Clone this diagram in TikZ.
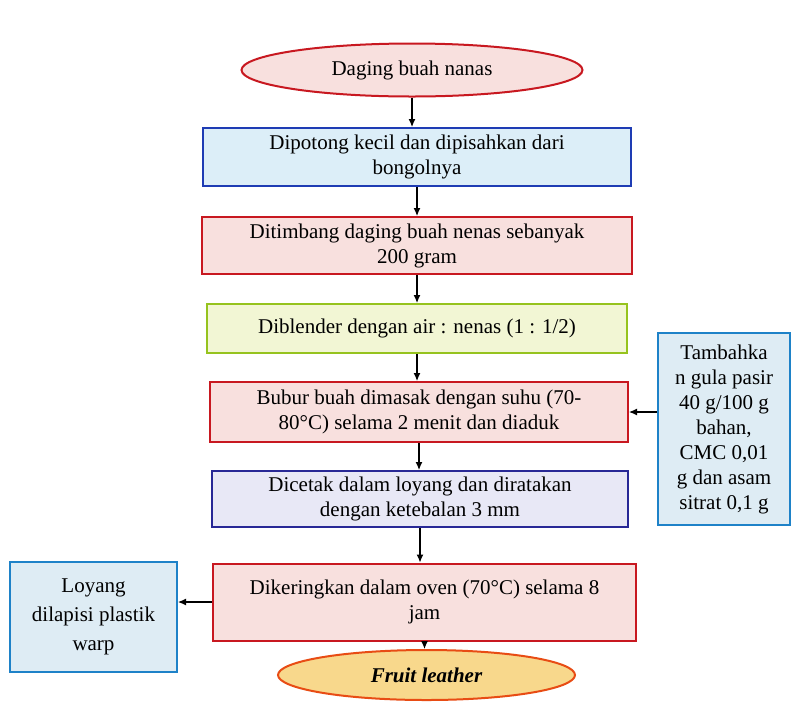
\documentclass[tikz,border=0pt]{standalone}
\usepackage{fontspec}
\setmainfont{Liberation Serif}
\usetikzlibrary{arrows.meta,shapes}

\definecolor{pinkfill}{RGB}{248,224,222}
\definecolor{redline}{RGB}{200,24,32}
\definecolor{bluefill}{RGB}{220,238,248}
\definecolor{blueline}{RGB}{30,60,180}
\definecolor{greenfill}{RGB}{242,246,212}
\definecolor{greenline}{RGB}{150,195,30}
\definecolor{lilacfill}{RGB}{232,232,246}
\definecolor{navyline}{RGB}{40,40,150}
\definecolor{skyfill}{RGB}{222,236,244}
\definecolor{skyline}{RGB}{30,130,200}
\definecolor{orangefill}{RGB}{248,216,140}
\definecolor{orangeline}{RGB}{232,76,20}

\begin{document}
\begin{tikzpicture}[x=1pt,y=-1pt,>={Latex[length=8pt,width=7pt]},inner sep=1pt,
  box/.style={draw,rectangle,line width=2pt,align=center,
    font=\fontsize{21}{25}\selectfont},
  oval/.style={draw,ellipse,line width=2pt,align=center,
    font=\fontsize{21}{25}\selectfont},
  flow/.style={->,line width=1.2pt}]
\useasboundingbox (0,0) rectangle (792,724);
\node[oval,fill=pinkfill,draw=redline,minimum width=341pt,minimum height=53pt] (start) at (412,70) {Daging buah nanas};
\node[box,fill=bluefill,draw=blueline,minimum width=428pt,minimum height=58pt] (cut) at (417,157) {Dipotong kecil dan dipisahkan dari\\ bongolnya};
\node[box,fill=pinkfill,draw=redline,minimum width=430pt,minimum height=57pt] (weigh) at (417,245.5) {Ditimbang daging buah nenas sebanyak\\ 200 gram};
\node[box,fill=greenfill,draw=greenline,minimum width=420pt,minimum height=49pt] (blend) at (417,328.5) {Diblender dengan air : nenas (1 : 1/2)};
\node[box,fill=pinkfill,draw=redline,minimum width=418pt,minimum height=60pt] (cook) at (419,412) {Bubur buah dimasak dengan suhu (70-\\ 80°C) selama 2 menit dan diaduk};
\node[box,fill=lilacfill,draw=navyline,minimum width=416pt,minimum height=56pt] (mold) at (420,499) {Dicetak dalam loyang dan diratakan\\ dengan ketebalan 3 mm};
\node[box,fill=pinkfill,draw=redline,minimum width=423pt,minimum height=77pt] (dry) at (424.5,602) {Dikeringkan dalam oven (70°C) selama 8\\ jam};
\node[box,fill=skyfill,draw=skyline,minimum width=167pt,minimum height=110pt,
  font=\fontsize{21}{29}\selectfont] (pan) at (93.5,617) {Loyang\\ dilapisi plastik\\ warp};
\node[box,fill=skyfill,draw=skyline,minimum width=132pt,minimum height=192pt] (add) at (724,429) {Tambahka\\ n gula pasir\\ 40 g/100 g\\ bahan,\\ CMC 0,01\\ g dan asam\\ sitrat 0,1 g};
\node[oval,fill=orangefill,draw=orangeline,minimum width=297pt,minimum height=50pt,
  font=\fontsize{21}{25}\selectfont\bfseries\itshape] (end) at (426.5,675) {Fruit leather};
\draw[flow] (start) -- (start.south |- cut.north);
\draw[flow] (cut.south) -- (cut.south |- weigh.north);
\draw[flow] (weigh.south) -- (weigh.south |- blend.north);
\draw[flow] (blend.south) -- (blend.south |- cook.north);
\draw[flow] (cook.south) -- (cook.south |- mold.north);
\draw[flow] (mold.south) -- (mold.south |- dry.north);
\draw[flow] (dry.south) -- (dry.south |- end.north);
\draw[flow] (cook.east -| add.west) -- (cook.east);
\draw[flow] (dry.west) -- (pan.east |- dry.west);
\end{tikzpicture}
\end{document}
